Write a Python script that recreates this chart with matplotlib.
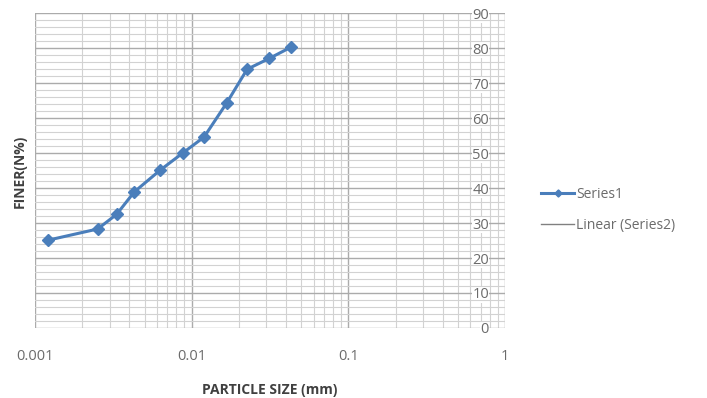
import numpy as np
import matplotlib
matplotlib.use("Agg")
import matplotlib.pyplot as plt
from matplotlib.ticker import LogLocator, MultipleLocator, FixedLocator, FixedFormatter

# grain size data
particle_size = [0.00121, 0.00251, 0.00332, 0.00430, 0.00628, 0.00875,
                 0.0120, 0.0167, 0.0226, 0.0313, 0.0430]
finer = [25.1, 28.3, 32.5, 38.9, 45.1, 50.0, 54.6, 64.3, 74.0, 77.1, 80.3]

x_ticks = [0.001, 0.01, 0.1, 1]
x_labels = ["0.001", "0.01", "0.1", "1"]
y_ticks = list(range(0, 100, 10))

plt.rcParams['font.family'] = ['Open Sans', 'DejaVu Sans']

fig = plt.figure(figsize=(7.07, 3.98), dpi=100)
ax = fig.add_axes([0.0495, 0.176, 0.6648, 0.7906])

blue = "#4a7ebb"
ax.plot(particle_size, finer, color=blue, lw=2.2, marker="D", ms=6,
        label="Series1", zorder=3)
# trendline entry in the legend only (no visible data)
ax.plot([], [], color="#808080", lw=1, label="Linear (Series2)")

ax.set_xscale("log")
ax.set_xlim(0.001, 1)
ax.set_ylim(0, 90)

ax.xaxis.set_major_locator(FixedLocator(x_ticks))
ax.xaxis.set_major_formatter(FixedFormatter(x_labels))
ax.xaxis.set_minor_locator(LogLocator(base=10, subs=np.arange(2, 10)))
ax.xaxis.set_minor_formatter(plt.NullFormatter())
ax.yaxis.set_major_locator(FixedLocator(y_ticks))
ax.yaxis.set_minor_locator(MultipleLocator(2))

ax.grid(which="major", color="#ababab", lw=1.0)
ax.grid(which="minor", color="#d2d2d2", lw=0.8)
ax.set_axisbelow(True)

for s in ax.spines.values():
    s.set_visible(False)

ax.tick_params(axis="x", which="both", length=0, pad=15, labelsize=10.5,
               labelcolor="#6b6b6b")
ax.yaxis.tick_right()
ax.tick_params(axis="y", which="both", length=0, pad=-11.5, labelsize=10.5,
               labelcolor="#6b6b6b")
for lab in ax.get_yticklabels():
    lab.set_horizontalalignment("right")
    lab.set_bbox(dict(facecolor="white", edgecolor="none", pad=0.3))

ax.set_xlabel("PARTICLE SIZE (mm)", fontsize=10, fontweight="bold",
              color="#404040", labelpad=14)
fig.text(0.028, 0.57, "FINER(N%)", rotation=90, fontsize=10,
         fontweight="bold", color="#404040", ha="center", va="center")

ax.legend(loc="center left", bbox_to_anchor=(1.05, 0.375), frameon=False,
          fontsize=10, labelcolor="#6b6b6b", handlelength=2.4,
          handletextpad=0.15, labelspacing=1.1, markerscale=0.6)

fig.savefig("out.png", dpi=100)
